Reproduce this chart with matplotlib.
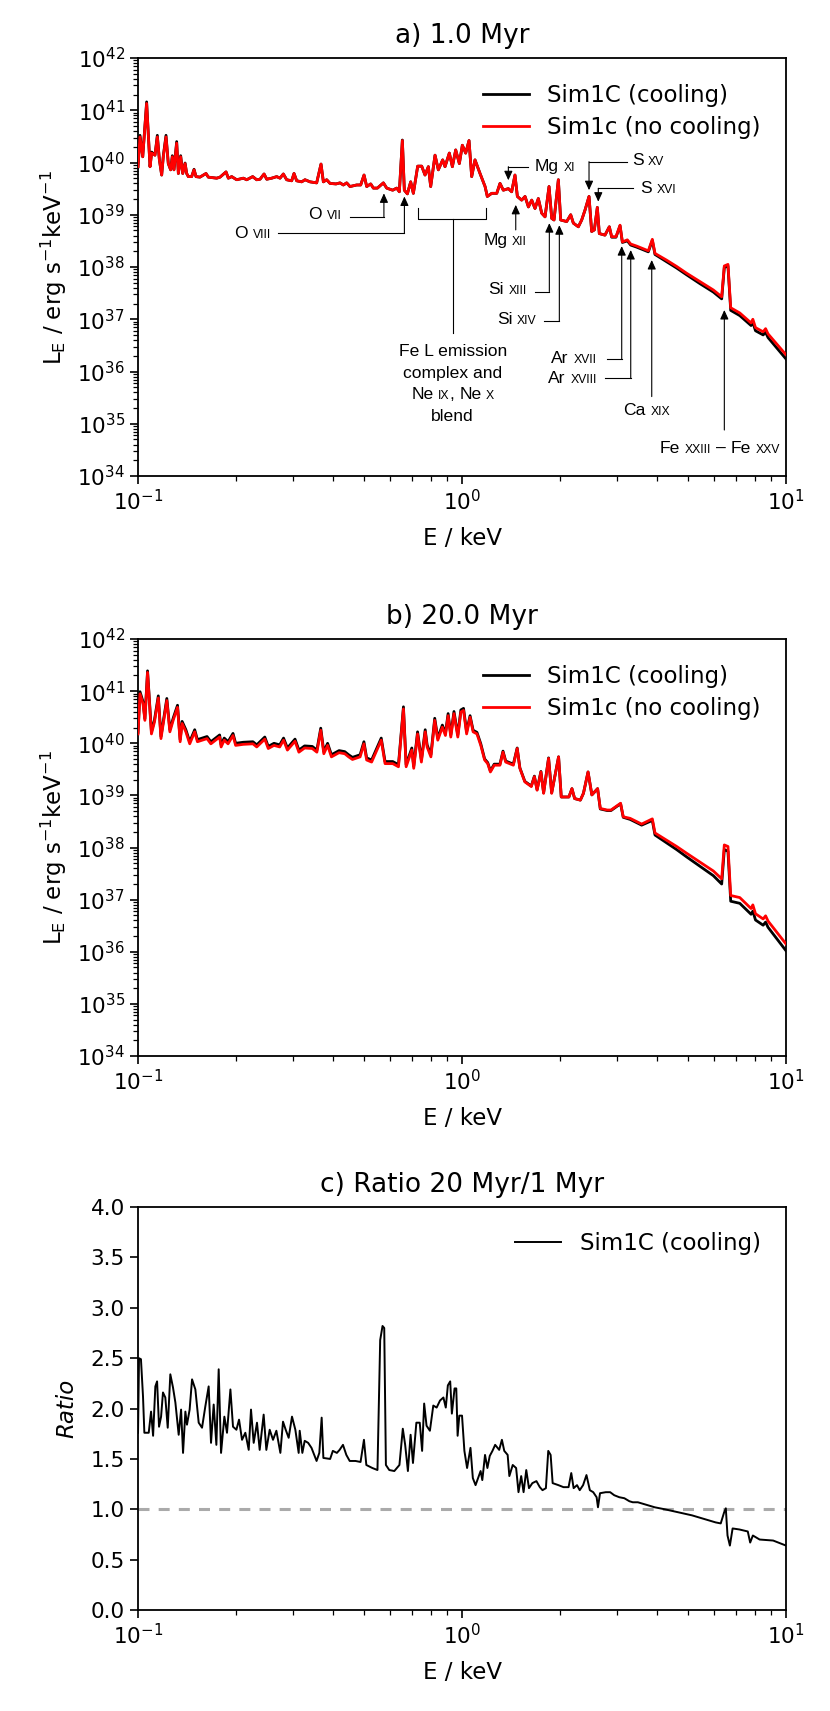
import numpy as np
import matplotlib
matplotlib.use("Agg")
from matplotlib import pyplot as plt
from matplotlib.ticker import LogLocator, NullFormatter, FixedLocator
from matplotlib.offsetbox import TextArea, HPacker, VPacker, DrawingArea, AnnotationBbox

plt.rcParams['font.family'] = ['DejaVu Sans']
plt.rcParams['axes.linewidth'] = 1.3

# ---- panel a) 1.0 Myr : energy (keV) and log10 L_E ----
E_a = [0.1000, 0.1014, 0.1034, 0.1063, 0.1089, 0.1102, 0.1128, 0.1147, 0.1164, 0.1183,
       0.1197, 0.1220, 0.1240, 0.1261, 0.1276, 0.1291, 0.1316, 0.1332, 0.1354, 0.1374,
       0.1397, 0.1413, 0.1430, 0.1464, 0.1489, 0.1510, 0.1553, 0.1621, 0.1648, 0.1749,
       0.1791, 0.1869, 0.1900, 0.1946, 0.2016, 0.2114, 0.2165, 0.2259, 0.2324, 0.2380,
       0.2449, 0.2496, 0.2586, 0.2679, 0.2743, 0.2809, 0.2876, 0.2980, 0.3030, 0.3088,
       0.3200, 0.3276, 0.3395, 0.3559, 0.3671, 0.3733, 0.3822, 0.3914, 0.4084, 0.4202,
       0.4302, 0.4406, 0.4511, 0.4730, 0.4867, 0.4984, 0.5080, 0.5226, 0.5326, 0.5480,
       0.5718, 0.5855, 0.6109, 0.6286, 0.6406, 0.6544, 0.6637, 0.6781, 0.6943, 0.7076,
       0.7298, 0.7508, 0.7688, 0.7872, 0.8004, 0.8254, 0.8451, 0.8716, 0.8862, 0.9138,
       0.9337, 0.9561, 0.9812, 1.0023, 1.0264, 1.0510, 1.0711, 1.0967, 1.1365,
       1.178, 1.197, 1.235, 1.280, 1.310, 1.341, 1.390, 1.423, 1.457, 1.482,
       1.528, 1.565, 1.603, 1.641, 1.680, 1.720, 1.762, 1.804, 1.856, 1.892,
       1.923, 1.983, 2.016, 2.104, 2.165, 2.206, 2.286, 2.341, 2.397, 2.466,
       2.513, 2.561, 2.616, 2.653, 2.762, 2.849, 2.897, 2.987, 3.074, 3.126,
       3.238, 3.316, 3.460, 3.759, 3.867, 3.941, 4.282, 4.598, 4.936, 5.428,
       5.967, 6.331, 6.45, 6.62, 6.75, 7.2, 7.8, 7.9, 8.05, 8.5,
       8.65, 8.8, 10.0]
logL_a_nocool = [39.92, 40.49, 40.11, 41.13, 39.92, 40.18, 40.14, 40.49, 40.05, 39.76,
                 40.11, 40.49, 39.98, 39.86, 40.11, 39.86, 40.37, 39.79, 40.11, 39.79,
                 39.98, 39.79, 39.73, 39.73, 39.86, 39.73, 39.72, 39.79, 39.72, 39.70,
                 39.72, 39.82, 39.70, 39.73, 39.67, 39.70, 39.67, 39.73, 39.67, 39.68,
                 39.78, 39.68, 39.70, 39.73, 39.70, 39.78, 39.67, 39.65, 39.79, 39.65,
                 39.63, 39.67, 39.63, 39.61, 39.97, 39.63, 39.67, 39.60, 39.59, 39.61,
                 39.57, 39.61, 39.54, 39.57, 39.57, 39.76, 39.54, 39.59, 39.51, 39.51,
                 39.61, 39.51, 39.47, 39.51, 39.44, 40.42, 39.47, 39.40, 39.63, 39.41,
                 39.93, 39.93, 39.76, 39.92, 39.54, 40.14, 39.86, 40.05, 39.92, 40.18,
                 39.92, 40.24, 39.98, 40.33, 40.18, 40.42, 39.73, 40.05, 39.79,
                 39.54, 39.35, 39.41, 39.41, 39.60, 39.47, 39.50, 39.44, 39.76, 39.35,
                 39.28, 39.35, 39.15, 39.28, 39.12, 39.31, 39.03, 38.96, 39.54, 38.93,
                 38.90, 39.67, 38.90, 38.87, 39.00, 38.84, 38.77, 38.90, 39.09, 39.35,
                 38.68, 38.71, 39.14, 38.64, 38.61, 38.77, 38.58, 38.58, 38.80, 38.48,
                 38.52, 38.44, 38.40, 38.31, 38.53, 38.26, 38.13, 38.01, 37.88, 37.72,
                 37.56, 37.43, 38.02, 38.05, 37.22, 37.12, 36.93, 37.00, 36.84, 36.76,
                 36.82, 36.72, 36.32]
logL_a_cool = [39.92, 40.52, 40.11, 41.16, 39.92, 40.20, 40.14, 40.52, 40.05, 39.76,
               40.13, 40.52, 39.98, 39.86, 40.13, 39.86, 40.40, 39.79, 40.13, 39.79,
               39.99, 39.79, 39.73, 39.73, 39.87, 39.73, 39.72, 39.79, 39.72, 39.70,
               39.72, 39.82, 39.70, 39.73, 39.67, 39.70, 39.67, 39.73, 39.67, 39.68,
               39.78, 39.68, 39.70, 39.73, 39.70, 39.78, 39.67, 39.65, 39.79, 39.65,
               39.63, 39.67, 39.63, 39.61, 39.97, 39.63, 39.67, 39.60, 39.59, 39.61,
               39.57, 39.61, 39.54, 39.57, 39.57, 39.76, 39.54, 39.59, 39.51, 39.51,
               39.61, 39.51, 39.47, 39.51, 39.44, 40.43, 39.47, 39.40, 39.63, 39.41,
               39.93, 39.93, 39.76, 39.92, 39.54, 40.14, 39.86, 40.05, 39.92, 40.18,
               39.92, 40.24, 39.98, 40.33, 40.18, 40.42, 39.73, 40.05, 39.79,
               39.54, 39.35, 39.41, 39.41, 39.60, 39.47, 39.50, 39.44, 39.76, 39.35,
               39.28, 39.35, 39.15, 39.28, 39.12, 39.31, 39.03, 38.96, 39.54, 38.93,
               38.90, 39.67, 38.90, 38.87, 39.00, 38.84, 38.77, 38.90, 39.09, 39.35,
               38.68, 38.71, 39.14, 38.64, 38.61, 38.77, 38.57, 38.57, 38.79, 38.47,
               38.50, 38.42, 38.38, 38.29, 38.51, 38.24, 38.10, 37.98, 37.85, 37.68,
               37.52, 37.39, 37.99, 38.02, 37.17, 37.07, 36.88, 36.94, 36.78, 36.70,
               36.75, 36.65, 36.24]

# ---- panel b) 20.0 Myr ----
E_b = [0.1000, 0.1014, 0.1036, 0.1050, 0.1070, 0.1100, 0.1124, 0.1155, 0.1177, 0.1227,
       0.1254, 0.1285, 0.1324, 0.1349, 0.1368, 0.1405, 0.1444, 0.1496, 0.1525, 0.1633,
       0.1678, 0.1786, 0.1805, 0.1845, 0.1896, 0.1964, 0.2001, 0.2113, 0.2263, 0.2325,
       0.2462, 0.2523, 0.2628, 0.2737, 0.2813, 0.2891, 0.3052, 0.3137, 0.3267, 0.3450,
       0.3565, 0.3664, 0.3745, 0.3847, 0.3953, 0.4173, 0.4346, 0.4467, 0.4590, 0.4847,
       0.4980, 0.5077, 0.5260, 0.5632, 0.5787, 0.6112, 0.6366, 0.6595, 0.6722, 0.6999,
       0.7095, 0.7291, 0.7492, 0.7698, 0.7803, 0.8016, 0.8237, 0.8418, 0.8696, 0.8888,
       0.9059, 0.9233, 0.9445, 0.9705, 0.9919, 1.0109, 1.0332, 1.0588, 1.0821, 1.1120,
       1.1427, 1.1743, 1.2003, 1.2235, 1.2572, 1.3092, 1.3381, 1.3640, 1.4016, 1.4402,
       1.4799, 1.5084, 1.5627, 1.6364, 1.6726, 1.7049, 1.7520, 1.7858, 1.8500, 1.8909,
       1.9863, 2.0243, 2.1374, 2.1842, 2.2263, 2.3187, 2.3700, 2.4490, 2.5164, 2.6210,
       2.6716, 2.8054, 2.8828, 3.0861, 3.1450, 3.3030, 3.5842, 3.867, 3.941, 4.282,
       4.598, 4.936, 5.428, 5.967, 6.331, 6.45, 6.62, 6.75, 7.2, 7.8,
       7.9, 8.05, 8.5, 8.65, 8.8, 10.0]
logL_b_nocool = [40.18, 40.95, 40.76, 40.44, 41.36, 40.18, 40.41, 40.87, 40.09, 40.82,
                 40.22, 40.45, 40.69, 40.03, 40.38, 40.22, 39.99, 40.22, 40.03, 40.09,
                 39.99, 40.12, 39.93, 40.06, 39.99, 40.15, 39.96, 39.98, 39.99, 39.93,
                 40.08, 39.90, 39.96, 39.93, 40.06, 39.87, 40.04, 39.83, 39.91, 39.90,
                 39.83, 40.25, 39.80, 39.96, 39.74, 39.82, 39.80, 39.74, 39.69, 39.74,
                 39.99, 39.68, 39.64, 40.06, 39.61, 39.61, 39.55, 40.66, 39.55, 39.87,
                 39.52, 40.18, 39.64, 40.22, 39.93, 39.74, 40.44, 40.06, 40.31, 40.15,
                 40.53, 40.12, 40.57, 40.12, 40.60, 40.63, 40.18, 40.50, 40.22, 40.18,
                 39.96, 39.68, 39.61, 39.45, 39.58, 39.58, 39.83, 39.64, 39.61, 39.58,
                 39.90, 39.52, 39.26, 39.17, 39.36, 39.10, 39.45, 39.04, 39.71, 39.04,
                 39.74, 38.97, 38.97, 39.13, 38.94, 38.91, 39.04, 39.45, 39.01, 39.13,
                 38.75, 38.72, 38.72, 38.85, 38.59, 38.56, 38.45, 38.55, 38.28, 38.14,
                 38.02, 37.89, 37.72, 37.55, 37.40, 38.05, 38.02, 37.08, 37.04, 36.83,
                 36.90, 36.73, 36.63, 36.69, 36.59, 36.15]
logL_b_cool = [40.21, 40.99, 40.80, 40.47, 41.39, 40.22, 40.45, 40.91, 40.13, 40.86,
               40.26, 40.49, 40.73, 40.07, 40.42, 40.26, 40.03, 40.26, 40.07, 40.13,
               40.03, 40.16, 39.97, 40.10, 40.03, 40.19, 40.00, 40.02, 40.03, 39.97,
               40.12, 39.94, 40.00, 39.97, 40.10, 39.91, 40.08, 39.87, 39.95, 39.94,
               39.87, 40.29, 39.84, 40.00, 39.78, 39.86, 39.84, 39.78, 39.73, 39.78,
               40.03, 39.72, 39.68, 40.10, 39.65, 39.65, 39.59, 40.70, 39.59, 39.91,
               39.56, 40.22, 39.68, 40.26, 39.97, 39.78, 40.48, 40.10, 40.35, 40.19,
               40.57, 40.16, 40.61, 40.16, 40.64, 40.67, 40.22, 40.53, 40.25, 40.21,
               39.99, 39.70, 39.63, 39.47, 39.60, 39.60, 39.85, 39.66, 39.63, 39.60,
               39.91, 39.53, 39.27, 39.18, 39.37, 39.11, 39.46, 39.05, 39.72, 39.05,
               39.74, 38.97, 38.97, 39.13, 38.94, 38.91, 39.04, 39.45, 39.01, 39.13,
               38.74, 38.71, 38.71, 38.84, 38.58, 38.54, 38.43, 38.52, 38.24, 38.09,
               37.96, 37.82, 37.64, 37.46, 37.30, 37.96, 37.93, 36.97, 36.93, 36.72,
               36.78, 36.61, 36.51, 36.57, 36.47, 36.02]

# ---- panel c) ratio 20 Myr / 1 Myr (cooling run) ----
E_c = [0.1000, 0.1007, 0.1021, 0.1036, 0.1046, 0.1079, 0.1097, 0.1113, 0.1131, 0.1145,
       0.1161, 0.1178, 0.1194, 0.1214, 0.1235, 0.1258, 0.1282, 0.1304, 0.1335, 0.1358,
       0.1377, 0.1400, 0.1416, 0.1443, 0.1468, 0.1503, 0.1539, 0.1576, 0.1613, 0.1652,
       0.1680, 0.1712, 0.1745, 0.1774, 0.1804, 0.1847, 0.1882, 0.1928, 0.1964, 0.2012,
       0.2050, 0.2094, 0.2144, 0.2196, 0.2232, 0.2275, 0.2329, 0.2374, 0.2442, 0.2489,
       0.2549, 0.2610, 0.2673, 0.2750, 0.2802, 0.2856, 0.2917, 0.2987, 0.3059, 0.3132,
       0.3155, 0.3215, 0.3269, 0.3350, 0.3431, 0.3557, 0.3627, 0.3688, 0.3733, 0.3917,
       0.3993, 0.4109, 0.4189, 0.4291, 0.4395, 0.4501, 0.4690, 0.4862, 0.4981, 0.5066,
       0.5288, 0.5483, 0.5590, 0.5684, 0.5753, 0.5822, 0.5963, 0.6181, 0.6409, 0.6565,
       0.6676, 0.6807, 0.6939, 0.7057, 0.7229, 0.7405, 0.7531, 0.7641, 0.7771, 0.7959,
       0.8153, 0.8350, 0.8553, 0.8761, 0.8910, 0.9042, 0.9194, 0.9304, 0.9484, 0.9600,
       0.9692, 0.9809, 1.0000, 1.0170, 1.0367, 1.0619, 1.0799, 1.1010, 1.1412, 1.1551,
       1.1776, 1.1976, 1.2179, 1.2414, 1.2655, 1.3024, 1.3277, 1.3502, 1.3831, 1.3998,
       1.4339, 1.4689, 1.4938, 1.5228, 1.5488, 1.5787, 1.6094, 1.6486, 1.6969, 1.7382,
       1.7718, 1.8150, 1.8458, 1.8771, 1.9043, 1.9838, 2.0568, 2.1322, 2.1737, 2.2105,
       2.2641, 2.3083, 2.3642, 2.4216, 2.4806, 2.5410, 2.6028, 2.6281, 2.6664, 2.7774,
       2.8658, 2.9494, 3.0580, 3.1699, 3.2861, 3.3659, 3.4893, 3.6616, 3.9355, 4.2296,
       4.6571, 5.1276, 5.6447, 6.0661, 6.2884, 6.4417, 6.5193, 6.5984, 6.7103, 6.8418,
       7.1779, 7.6208, 7.7518, 7.9018, 8.0933, 8.2911, 9.1271, 10.0]
ratio_c = [1.76, 2.50, 2.49, 2.12, 1.76, 1.76, 1.97, 1.73, 2.22, 2.27,
           1.82, 1.92, 2.16, 2.11, 1.81, 2.34, 2.21, 2.06, 1.74, 1.99,
           1.56, 1.97, 1.84, 1.99, 2.29, 2.19, 1.86, 1.81, 2.02, 2.22,
           1.66, 2.04, 1.64, 2.39, 1.56, 1.92, 1.76, 2.19, 1.82, 1.79,
           1.89, 1.69, 1.76, 1.59, 1.99, 1.66, 1.86, 1.59, 1.94, 1.59,
           1.79, 1.69, 1.78, 1.56, 1.87, 1.79, 1.71, 1.92, 1.79, 1.56,
           1.78, 1.56, 1.68, 1.66, 1.61, 1.48, 1.56, 1.91, 1.51, 1.50,
           1.58, 1.56, 1.59, 1.64, 1.54, 1.48, 1.48, 1.47, 1.69, 1.44,
           1.41, 1.39, 2.68, 2.82, 2.80, 1.44, 1.39, 1.38, 1.44, 1.80,
           1.64, 1.38, 1.74, 1.46, 1.86, 1.86, 1.58, 2.05, 1.83, 1.78,
           2.03, 2.01, 2.08, 2.11, 2.01, 2.23, 2.27, 1.95, 2.20, 2.20,
           1.73, 1.93, 1.93, 1.58, 1.41, 1.61, 1.31, 1.24, 1.38, 1.29,
           1.54, 1.41, 1.53, 1.58, 1.64, 1.59, 1.69, 1.58, 1.54, 1.33,
           1.44, 1.41, 1.17, 1.33, 1.17, 1.39, 1.21, 1.26, 1.28, 1.22,
           1.19, 1.21, 1.58, 1.54, 1.26, 1.24, 1.22, 1.22, 1.36, 1.21,
           1.24, 1.19, 1.24, 1.34, 1.19, 1.17, 1.12, 1.02, 1.16, 1.17,
           1.17, 1.14, 1.12, 1.11, 1.08, 1.07, 1.07, 1.05, 1.02, 1.00,
           0.97, 0.94, 0.90, 0.87, 0.86, 0.97, 1.01, 0.74, 0.64, 0.81,
           0.80, 0.78, 0.67, 0.74, 0.72, 0.70, 0.69, 0.64]

labels_cool = 'Sim1C (cooling)'
labels_nocool = 'Sim1c (no cooling)'
decades = [1e34, 1e35, 1e36, 1e37, 1e38, 1e39, 1e40, 1e41, 1e42]
ratio_ticks = [0.0, 0.5, 1.0, 1.5, 2.0, 2.5, 3.0, 3.5, 4.0]

# line identifications in panel a: label pieces, text anchor, alignment, path (last point = arrow tip)
# pieces: (text, small?) ; None = word space
line_ids = [
    ([("O", 0), None, ("VII", 1)], (0.425, 39.00), 'right',
     [(0.451, 38.96), (0.574, 38.96), (0.574, 39.41)]),
    ([("O", 0), None, ("VIII", 1)], (0.257, 38.645), 'right',
     [(0.270, 38.645), (0.664, 38.645), (0.664, 39.35)]),
    ([("Mg", 0), None, ("XI", 1)], (1.68, 39.92), 'left',
     [(1.595, 39.92), (1.39, 39.92), (1.39, 39.66)]),
    ([("Mg", 0), None, ("XII", 1)], (1.357, 38.50), 'center',
     [(1.465, 38.71), (1.465, 39.19)]),
    ([("Si", 0), None, ("XIII", 1)], (1.584, 37.573), 'right',
     [(1.680, 37.53), (1.86, 37.53), (1.86, 38.84)]),
    ([("Si", 0), None, ("XIV", 1)], (1.701, 37.0), 'right',
     [(1.791, 36.967), (1.997, 36.967), (1.997, 38.80)]),
    ([("S", 0), None, ("XV", 1)], (3.34, 40.035), 'left',
     [(3.224, 40.016), (2.466, 40.016), (2.466, 39.47)]),
    ([("S", 0), None, ("XVI", 1)], (3.543, 39.51), 'left',
     [(3.379, 39.506), (2.634, 39.506), (2.634, 39.25)]),
    ([("Ar", 0), None, ("XVII", 1)], (2.604, 36.253), 'right',
     [(2.797, 36.233), (3.111, 36.233), (3.111, 38.40)]),
    ([("Ar", 0), None, ("XVIII", 1)], (2.604, 35.87), 'right',
     [(2.763, 35.87), (3.317, 35.87), (3.317, 38.325)]),
    ([("Ca", 0), None, ("XIX", 1)], (3.716, 35.26), 'center',
     [(3.851, 35.52), (3.851, 38.134)]),
    ([("Fe", 0), None, ("XXIII", 1), None, ("\u2013", 0), None, ("Fe", 0), None, ("XXV", 1)],
     (4.08, 34.53), 'left',
     [(6.451, 34.88), (6.451, 37.177)]),
]
fel_bracket = [0.733, 1.183, 39.123, 38.91]   # left E, right E, tip logL, base logL
fel_stem = [0.936, 38.91, 36.737]
fel_label = [[("Fe L emission", 0)], [("complex and", 0)],
             [("Ne", 0), None, ("IX", 1), (",", 0), None, ("Ne", 0), None, ("X", 1)],
             [("blend", 0)]]
fel_label_pos = (0.936, 36.53)

BIG = 12.6
SMALL = 8.8
ANN_FONT = 'Liberation Sans'
TICK_FS = 15.5
LABEL_FS = 16.5
TITLE_FS = 19
LEG_FS = 16.5


def label_box(pieces):
    kids = []
    for p in pieces:
        if p is None:
            kids.append(DrawingArea(3.4, 1))
        else:
            txt, small = p
            kids.append(TextArea(txt, textprops=dict(fontsize=SMALL if small else BIG,
                                                     family=ANN_FONT, color='k')))
    return HPacker(children=kids, align='baseline', pad=0, sep=0)


def style_axes(ax):
    ax.set_xscale('log')
    ax.set_xlim(0.1, 10)
    ax.tick_params(axis='both', which='major', labelsize=TICK_FS, length=6, width=1.2)
    ax.tick_params(axis='both', which='minor', length=3.5, width=0.9)
    ax.xaxis.set_minor_locator(LogLocator(base=10, subs=np.arange(2, 10), numticks=50))
    ax.xaxis.set_minor_formatter(NullFormatter())
    ax.set_xlabel('E / keV', fontsize=LABEL_FS, labelpad=9)


def spectrum_axes(ax):
    style_axes(ax)
    ax.set_yscale('log')
    ax.set_ylim(1e34, 1e42)
    ax.yaxis.set_major_locator(FixedLocator(decades))
    ax.yaxis.set_minor_locator(LogLocator(base=10, subs=np.arange(2, 10), numticks=100))
    ax.yaxis.set_minor_formatter(NullFormatter())
    ax.set_ylabel(r'L$_{\rm E}$ / erg s$^{-1}$keV$^{-1}$', fontsize=LABEL_FS, labelpad=6)


def add_legend(ax, frac_top):
    ax.legend(loc='upper right', bbox_to_anchor=(0.975, frac_top), frameon=False,
              fontsize=LEG_FS, handlelength=2.0, handletextpad=0.8,
              labelspacing=0.4, borderaxespad=0.0)


fig = plt.figure(figsize=(8.3, 17.11), dpi=100)
L, W = 0.1663, 0.7807
ax1 = fig.add_axes([L, 0.7218, W, 0.2443])
ax2 = fig.add_axes([L, 0.3828, W, 0.2437])
ax3 = fig.add_axes([L, 0.0590, W, 0.2355])

# panel a
ax1.plot(E_a, 10.0 ** np.array(logL_a_cool), color='k', lw=2.0, label=labels_cool, zorder=2)
ax1.plot(E_a, 10.0 ** np.array(logL_a_nocool), color='#ff0000', lw=2.0, label=labels_nocool, zorder=3)
spectrum_axes(ax1)
ax1.set_title('a) 1.0 Myr', fontsize=TITLE_FS, pad=11)
add_legend(ax1, 0.96)

for pieces, (tx, ty), ha, path in line_ids:
    xs = [p[0] for p in path]
    ys = [10.0 ** p[1] for p in path]
    ax1.plot(xs[:-1], ys[:-1], color='k', lw=0.8, zorder=4)
    ax1.annotate('', xy=(xs[-1], ys[-1]), xytext=(xs[-2], ys[-2]),
                 arrowprops=dict(arrowstyle='-|>,head_length=0.55,head_width=0.25',
                                 mutation_scale=10, color='k', lw=0.8,
                                 shrinkA=0, shrinkB=0), zorder=4)
    align = {'right': (1.0, 0.5), 'left': (0.0, 0.5), 'center': (0.5, 0.5)}[ha]
    ab = AnnotationBbox(label_box(pieces), (tx, 10.0 ** ty), xycoords='data',
                        box_alignment=align, frameon=False, pad=0, annotation_clip=False)
    ax1.add_artist(ab)

bx0, bx1, btop, bbase = fel_bracket
ax1.plot([bx0, bx0, bx1, bx1], [10.0 ** btop, 10.0 ** bbase, 10.0 ** bbase, 10.0 ** btop],
         color='k', lw=0.8)
ax1.plot([fel_stem[0], fel_stem[0]], [10.0 ** fel_stem[1], 10.0 ** fel_stem[2]], color='k', lw=0.8)
fel_box = VPacker(children=[label_box(r) for r in fel_label], align='center', pad=0, sep=4.9)
ax1.add_artist(AnnotationBbox(fel_box, (fel_label_pos[0], 10.0 ** fel_label_pos[1]),
                              xycoords='data', box_alignment=(0.5, 1.0), frameon=False,
                              pad=0, annotation_clip=False))

# panel b
ax2.plot(E_b, 10.0 ** np.array(logL_b_cool), color='k', lw=2.0, label=labels_cool, zorder=2)
ax2.plot(E_b, 10.0 ** np.array(logL_b_nocool), color='#ff0000', lw=2.0, label=labels_nocool, zorder=3)
spectrum_axes(ax2)
ax2.set_title('b) 20.0 Myr', fontsize=TITLE_FS, pad=11)
add_legend(ax2, 0.96)

# panel c
ax3.axhline(1.0, color='#aaaaaa', lw=2.2, dashes=(3.6, 3.0), zorder=1)
ax3.plot(E_c, ratio_c, color='k', lw=1.4, label=labels_cool, zorder=2)
style_axes(ax3)
ax3.set_ylim(0, 4)
ax3.set_yticks(ratio_ticks)
ax3.set_ylabel('Ratio', fontsize=LABEL_FS, style='italic', labelpad=9)
ax3.set_title('c) Ratio 20 Myr/1 Myr', fontsize=TITLE_FS, pad=11)
add_legend(ax3, 0.96)

fig.savefig('out.png', dpi=100)
